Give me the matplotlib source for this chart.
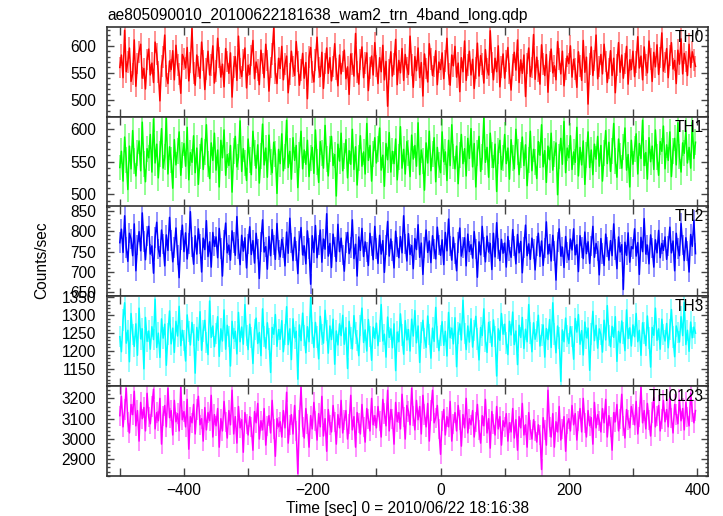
import numpy as np
import matplotlib
matplotlib.use("Agg")
import matplotlib.pyplot as plt
from matplotlib.ticker import MultipleLocator, FuncFormatter

plt.rcParams["font.family"] = ["Liberation Sans", "DejaVu Sans"]

TITLE = "ae805090010_20100622181638_wam2_trn_4band_long.qdp"
BIN_START = -500
BIN_STEP = 2.5

# light-curve rates (counts/sec), 2.5 s bins from -500 s
th0 = [
    560, 583, 541, 629, 552, 570, 596, 534, 548, 611, 525, 567, 589, 603, 540, 558, 520, 575, 594, 546,
    568, 532, 607, 585, 551, 498, 563, 579, 620, 544, 530, 572, 556, 591, 537, 601, 565, 548, 512, 584,
    576, 559, 597, 535, 569, 632, 550, 527, 583, 562, 540, 607, 573, 519, 557, 590, 546, 565, 600, 531,
    553, 614, 578, 542, 566, 524, 595, 571, 549, 587, 505, 561, 580, 536, 618, 558, 543, 574, 596, 522,
    564, 547, 582, 610, 539, 570, 555, 528, 592, 567, 541, 603, 573, 516, 560, 585, 634, 549, 530, 577,
    558, 599, 537, 566, 581, 513, 548, 590, 562, 545, 608, 571, 527, 555, 586, 540, 569, 502, 579, 597,
    551, 533, 574, 616, 560, 543, 588, 521, 567, 596, 549, 578, 535, 562, 604, 557, 526, 583, 548, 571,
    592, 539, 561, 510, 585, 566, 544, 623, 552, 529, 575, 598, 541, 568, 587, 517, 559, 581, 546, 606,
    563, 530, 578, 552, 601, 537, 571, 488, 556, 589, 544, 566, 612, 528, 573, 550, 595, 536, 584, 560,
    547, 618, 565, 523, 580, 554, 596, 541, 569, 507, 585, 558, 533, 604, 576, 545, 562, 591, 528, 570,
    556, 587, 539, 572, 614, 548, 527, 583, 563, 599, 542, 568, 515, 578, 552, 609, 536, 564, 590, 546,
    575, 521, 559, 605, 544, 582, 566, 531, 593, 558, 546, 628, 569, 537, 577, 552, 600, 524, 561, 585,
    540, 572, 597, 549, 518, 565, 588, 555, 611, 532, 574, 549, 583, 506, 567, 596, 543, 560, 621, 538,
    579, 553, 529, 602, 566, 545, 584, 514, 571, 594, 550, 563, 537, 608, 576, 548, 590, 526, 557, 581,
    567, 600, 542, 575, 557, 523, 589, 563, 536, 610, 551, 579, 492, 566, 598, 545, 573, 620, 539, 562,
    584, 548, 603, 571, 532, 558, 591, 545, 577, 513, 564, 606, 551, 583, 540, 567, 599, 529, 574, 556,
    590, 543, 570, 617, 559, 581, 537, 598, 565, 550, 609, 576, 534, 588, 561, 602, 547, 578, 624, 553,
    569, 595, 541, 582, 606, 557, 573, 530, 592, 566, 613, 548, 586, 571, 545, 603, 560, 589, 574, 562,
]
th1 = [
    541, 566, 520, 588, 553, 507, 574, 539, 598, 551, 528, 563, 582, 536, 611, 547, 519, 570, 556, 592,
    534, 616, 548, 577, 525, 562, 601, 540, 557, 619, 531, 573, 552, 509, 584, 545, 567, 596, 529, 560,
    578, 543, 603, 522, 564, 549, 590, 533, 571, 515, 558, 586, 538, 565, 607, 546, 524, 579, 552, 594,
    537, 568, 511, 583, 556, 599, 529, 561, 544, 575, 503, 566, 589, 542, 557, 613, 535, 570, 548, 521,
    585, 553, 530, 597, 563, 540, 576, 517, 559, 608, 545, 571, 526, 591, 550, 533, 580, 562, 501, 569,
    547, 593, 536, 558, 614, 541, 566, 523, 587, 552, 575, 510, 560, 597, 539, 568, 546, 583, 527, 555,
    572, 532, 599, 549, 518, 581, 563, 540, 606, 554, 528, 570, 589, 544, 561, 497, 577, 551, 594, 536,
    559, 584, 525, 567, 546, 600, 538, 573, 514, 556, 590, 543, 565, 531, 609, 552, 575, 520, 562, 587,
    548, 570, 602, 537, 560, 512, 578, 553, 595, 534, 566, 547, 585, 522, 557, 604, 540, 569, 531, 581,
    563, 527, 591, 554, 575, 543, 610, 530, 568, 551, 506, 579, 548, 597, 536, 562, 587, 519, 572, 545,
    533, 596, 550, 565, 521, 583, 544, 607, 558, 539, 574, 516, 561, 592, 547, 570, 528, 586, 555, 601,
    542, 578, 511, 564, 589, 535, 557, 618, 549, 572, 526, 594, 560, 541, 577, 504, 566, 583, 538, 555,
    592, 547, 571, 523, 584, 556, 539, 600, 565, 530, 561, 588, 544, 576, 513, 553, 597, 536, 569, 550,
    524, 581, 560, 607, 542, 567, 518, 574, 553, 594, 537, 562, 579, 499, 558, 586, 546, 612, 533, 571,
    556, 590, 538, 565, 549, 603, 528, 572, 545, 582, 515, 560, 596, 541, 568, 530, 577, 554, 589, 543,
    575, 520, 563, 598, 547, 580, 535, 566, 609, 551, 526, 585, 559, 540, 572, 602, 537, 561, 511, 583,
    546, 569, 593, 531, 578, 555, 614, 544, 564, 523, 587, 550, 574, 538, 599, 557, 529, 581, 566, 605,
    539, 576, 552, 596, 527, 567, 586, 545, 610, 558, 534, 579, 563, 598, 548, 572, 540, 611, 555, 580,
]
th2 = [
    772, 805, 748, 838, 760, 726, 795, 781, 740, 818, 703, 766, 799, 752, 845, 775, 730, 788, 812, 744,
    764, 697, 785, 822, 756, 738, 803, 769, 715, 791, 753, 834, 777, 725, 760, 808, 742, 686, 779, 815,
    750, 796, 732, 770, 848, 761, 719, 789, 744, 806, 768, 700, 783, 755, 826, 738, 774, 712, 797, 763,
    786, 735, 807, 758, 690, 779, 820, 747, 766, 729, 801, 772, 741, 836, 757, 718, 790, 751, 784, 710,
    768, 811, 743, 777, 722, 795, 756, 684, 773, 828, 749, 762, 707, 787, 740, 804, 766, 731, 819, 754,
    737, 780, 760, 715, 798, 746, 832, 771, 728, 785, 752, 696, 776, 809, 742, 764, 720, 801, 758, 670,
    789, 748, 814, 735, 767, 803, 724, 781, 756, 843, 739, 770, 711, 793, 761, 726, 817, 750, 783, 741,
    702, 772, 797, 745, 760, 828, 733, 768, 690, 786, 753, 807, 738, 774, 749, 716, 795, 763, 730, 812,
    758, 721, 790, 744, 777, 699, 766, 824, 739, 781, 752, 710, 800, 761, 735, 787, 747, 838, 769, 727,
    794, 743, 765, 708, 782, 755, 816, 736, 771, 694, 760, 803, 748, 776, 723, 789, 757, 732, 810, 766,
    741, 779, 718, 797, 752, 830, 764, 729, 785, 745, 703, 772, 808, 739, 760, 784, 715, 793, 750, 767,
    734, 799, 756, 687, 774, 742, 812, 761, 725, 788, 749, 770, 706, 795, 737, 821, 758, 728, 780, 746,
    771, 712, 787, 753, 736, 804, 763, 720, 792, 747, 775, 698, 760, 815, 740, 769, 731, 783, 756, 705,
    763, 795, 738, 776, 716, 759, 823, 744, 768, 727, 790, 752, 680, 774, 806, 739, 761, 711, 787, 748,
    730, 781, 754, 806, 742, 767, 701, 789, 760, 733, 798, 745, 774, 721, 764, 812, 736, 770, 751, 693,
    782, 745, 716, 793, 761, 729, 777, 740, 818, 755, 708, 786, 749, 767, 657, 773, 741, 796, 724, 762,
    757, 806, 739, 772, 694, 785, 750, 831, 744, 766, 720, 791, 759, 712, 779, 747, 802, 735, 770, 753,
    786, 731, 764, 810, 747, 776, 703, 795, 758, 740, 819, 766, 728, 784, 751, 700, 792, 763, 827, 745,
]
th3 = [
    1240, 1198, 1287, 1335, 1222, 1258, 1170, 1305, 1247, 1213, 1276, 1188, 1320, 1234, 1262, 1150, 1294, 1227, 1256, 1205,
    1268, 1232, 1345, 1210, 1250, 1182, 1290, 1236, 1275, 1160, 1248, 1312, 1220, 1264, 1196, 1283, 1242, 1325, 1215, 1258,
    1229, 1172, 1301, 1254, 1217, 1280, 1245, 1138, 1266, 1230, 1310, 1202, 1256, 1286, 1224, 1190, 1340, 1238, 1270, 1212,
    1249, 1296, 1185, 1262, 1228, 1315, 1205, 1272, 1240, 1158, 1283, 1235, 1255, 1192, 1308, 1226, 1267, 1219, 1330, 1243,
    1204, 1275, 1238, 1165, 1260, 1292, 1221, 1252, 1187, 1318, 1240, 1208, 1279, 1234, 1140, 1266, 1247, 1302, 1213, 1260,
    1233, 1285, 1198, 1246, 1324, 1218, 1262, 1176, 1290, 1237, 1255, 1121, 1273, 1229, 1306, 1244, 1195, 1268, 1226, 1350,
    1251, 1210, 1280, 1239, 1178, 1297, 1246, 1222, 1314, 1258, 1194, 1270, 1232, 1289, 1163, 1256, 1217, 1276, 1243, 1300,
    1219, 1265, 1151, 1283, 1236, 1206, 1299, 1250, 1230, 1187, 1271, 1320, 1224, 1259, 1200, 1288, 1241, 1174, 1267, 1235,
    1278, 1215, 1256, 1330, 1228, 1247, 1183, 1295, 1238, 1262, 1209, 1276, 1145, 1253, 1226, 1304, 1245, 1191, 1285, 1231,
    1260, 1200, 1289, 1242, 1313, 1223, 1270, 1168, 1252, 1286, 1235, 1210, 1298, 1247, 1180, 1264, 1227, 1322, 1239, 1201,
    1244, 1282, 1216, 1255, 1186, 1308, 1237, 1264, 1220, 1293, 1156, 1250, 1276, 1231, 1342, 1249, 1204, 1270, 1225, 1290,
    1211, 1258, 1297, 1234, 1175, 1266, 1243, 1318, 1228, 1196, 1280, 1253, 1213, 1287, 1240, 1130, 1262, 1230, 1305, 1247,
    1275, 1222, 1190, 1283, 1245, 1309, 1218, 1256, 1162, 1272, 1238, 1294, 1207, 1261, 1226, 1330, 1250, 1198, 1279, 1233,
    1254, 1300, 1214, 1245, 1273, 1183, 1263, 1232, 1288, 1210, 1335, 1248, 1195, 1270, 1236, 1115, 1259, 1226, 1292, 1242,
    1221, 1268, 1240, 1177, 1291, 1253, 1302, 1219, 1257, 1189, 1281, 1237, 1264, 1146, 1248, 1311, 1229, 1272, 1208, 1262,
    1246, 1197, 1286, 1231, 1327, 1243, 1212, 1269, 1238, 1296, 1171, 1255, 1223, 1284, 1250, 1201, 1315, 1235, 1265, 1214,
    1273, 1240, 1305, 1226, 1258, 1188, 1279, 1251, 1215, 1298, 1236, 1155, 1266, 1244, 1320, 1230, 1262, 1205, 1289, 1247,
    1228, 1277, 1209, 1261, 1316, 1239, 1184, 1270, 1252, 1225, 1296, 1243, 1336, 1218, 1258, 1199, 1281, 1237, 1267, 1250,
]
th0123 = [
    3115, 3210, 3060, 3145, 3250, 3085, 3030, 3170, 3120, 3235, 3065, 3140, 2990, 3180, 3100, 3155, 3040, 3225, 3110, 3075,
    3160, 3245, 3050, 3130, 3090, 3200, 2975, 3115, 3165, 3060, 3250, 3105, 3140, 3020, 3190, 3085, 3125, 3040, 3255, 3095,
    3135, 3060, 3195, 2950, 3110, 3080, 3170, 3025, 3145, 3210, 3070, 3100, 2990, 3155, 3045, 3130, 3090, 3215, 3010, 3120,
    3065, 3150, 2960, 3100, 3040, 3185, 3085, 3005, 3140, 3070, 3240, 3025, 3110, 2980, 3160, 3055, 3095, 2935, 3130, 3075,
    3020, 3110, 3060, 2945, 3135, 3080, 3175, 3000, 3090, 3045, 3150, 2970, 3065, 3115, 3030, 3190, 3050, 2915, 3100, 3060,
    3085, 3010, 3140, 3055, 3230, 2980, 3070, 3120, 3025, 3165, 3040, 2830, 3095, 3255, 3060, 3005, 3150, 3075, 2960, 3115,
    3050, 3180, 3090, 2995, 3125, 3060, 3210, 3015, 3100, 2940, 3145, 3070, 3035, 3165, 3085, 2975, 3120, 3055, 3190, 3030,
    3095, 3140, 3000, 3075, 3215, 3045, 3110, 2960, 3130, 3080, 3025, 3170, 3060, 2985, 3150, 3100, 3040, 3200, 3070, 3115,
    3055, 3160, 3090, 3010, 3195, 3125, 3065, 3240, 3040, 3145, 3100, 2975, 3180, 3085, 3130, 3050, 3220, 3110, 3000, 3165,
    3135, 3070, 3250, 3115, 3045, 3190, 3095, 3160, 3025, 3215, 3120, 3060, 3175, 2990, 3140, 3240, 3080, 3105, 3165, 3050,
    2925, 3090, 3145, 3020, 3110, 3060, 3185, 2990, 3075, 3130, 3040, 3165, 3095, 2965, 3120, 3055, 3200, 3030, 3100, 3070,
    3140, 3010, 3085, 3170, 3045, 2980, 3115, 3065, 3195, 3030, 3100, 2955, 3135, 3075, 3020, 3160, 3050, 3110, 2970, 3090,
    3060, 3125, 2990, 3080, 3035, 3150, 3005, 3095, 2945, 3110, 3055, 3175, 3020, 3070, 2960, 3130, 3045, 3000, 3095, 3040,
    2985, 3070, 3020, 2850, 3105, 3045, 2970, 3240, 3060, 3010, 3125, 2960, 3085, 3035, 3160, 2995, 3050, 3110, 2940, 3075,
    3100, 3040, 3165, 3070, 3125, 2995, 3090, 3150, 3035, 3200, 3080, 3010, 3140, 3065, 3105, 2975, 3180, 3055, 3120, 3090,
    3035, 3150, 3080, 3195, 3010, 3115, 3060, 2945, 3130, 3085, 3170, 3040, 3100, 3220, 3065, 3005, 3145, 3095, 3055, 3160,
    3120, 3070, 3185, 3025, 3110, 3255, 3080, 3140, 3050, 3175, 3095, 3015, 3130, 3205, 3060, 3115, 3165, 3040, 3100, 3190,
    3085, 3145, 3060, 3210, 3105, 3030, 3170, 3120, 3075, 3195, 3090, 3150, 3045, 3180, 3110, 3065, 3225, 3135, 3080, 3140,
]

band_names = ["TH0", "TH1", "TH2", "TH3", "TH0123"]
band_rates = [th0, th1, th2, th3, th0123]
band_errors = [20, 20, 25, 30, 50]
band_colors = ["#ff0000", "#00ff00", "#0000ff", "#00ffff", "#ff00ff"]
band_ylims = [(468, 635), (480, 619), (641, 862), (1102, 1354), (2818, 3261)]
band_major = [50, 50, 50, 50, 100]
band_minor = [10, 10, 10, 10, 20]

W, H = 723, 516
FS = 11.2
fig = plt.figure(figsize=(W / 100, H / 100), dpi=100)

left, right = 107, 708
panel_tops = [27, 117, 206, 296, 386]
panel_h = 90

for i, name in enumerate(band_names):
    top = panel_tops[i]
    ax = fig.add_axes([left / W, 1 - (top + panel_h) / H, (right - left) / W, panel_h / H])
    y = np.asarray(band_rates[i], dtype=float)
    t = BIN_START + BIN_STEP * np.arange(len(y))
    err = band_errors[i]
    c = band_colors[i]
    ax.vlines(t, y - err, y + err, color=c, alpha=0.5, lw=1.2)
    ax.plot(t, y, color=c, lw=1.1)

    ax.set_xlim(-520, 417)
    ax.set_ylim(*band_ylims[i])
    ax.xaxis.set_major_locator(MultipleLocator(100))
    ax.yaxis.set_major_locator(MultipleLocator(band_major[i]))
    ax.yaxis.set_minor_locator(MultipleLocator(band_minor[i]))
    ax.tick_params(which="both", direction="in", top=True, right=True, labelsize=FS,
                   width=1.0, color="#444444")
    ax.tick_params(axis="y", which="major", length=5, pad=8)
    ax.tick_params(axis="y", which="minor", length=2.5)
    ax.tick_params(axis="x", which="major", length=6, pad=5)
    for sp in ax.spines.values():
        sp.set_linewidth(1.2)
        sp.set_color("#333333")

    if i == len(band_names) - 1:
        ax.xaxis.set_major_formatter(FuncFormatter(
            lambda v, p: f"{int(v)}".replace("-", "\u2212") if int(round(v)) % 200 == 0 else ""))
        ax.set_xlabel("Time [sec] 0 = 2010/06/22 18:16:38", fontsize=FS, labelpad=2)
    else:
        ax.set_xticklabels([])

    ax.text(0.993, 0.97, name, transform=ax.transAxes, ha="right", va="top", fontsize=FS)

fig.text(left / W, 1 - 15 / H, TITLE, ha="left", va="center", fontsize=FS)
fig.text(42 / W, 1 - 260 / H, "Counts/sec", rotation=90, ha="center", va="center", fontsize=FS)

fig.savefig("out.png", dpi=100)
